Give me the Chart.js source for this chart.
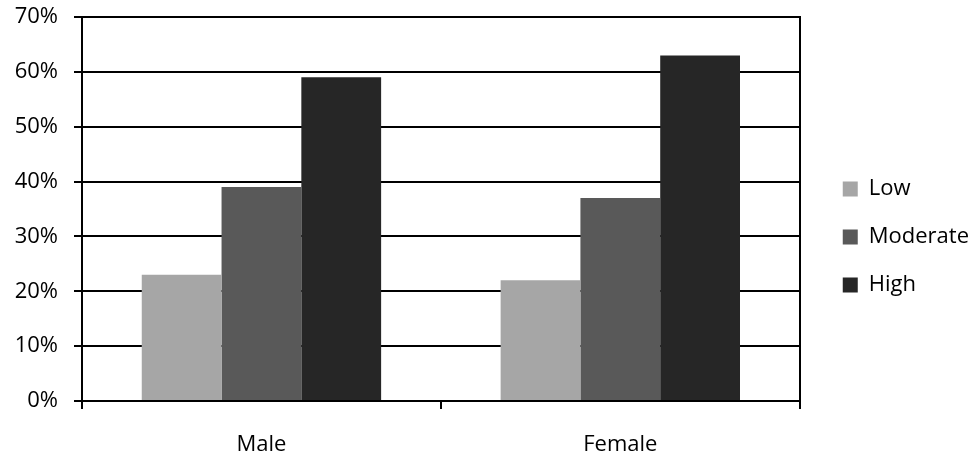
<!DOCTYPE html>
<html>
<head>
<meta charset="utf-8">
<script src="https://cdn.jsdelivr.net/npm/chart.js@4"></script>
<style>
  html, body { margin: 0; padding: 0; background: #fff; }
  #wrap { width: 976px; height: 457px; position: relative; }
</style>
</head>
<body>
<div id="wrap"><canvas id="chart"></canvas></div>
<script>
// Chart data
const categories = ['Male', 'Female'];
const seriesNames = ['Low', 'Moderate', 'High'];
const lowValues = [23, 22];
const moderateValues = [39, 37];
const highValues = [59, 63];
const yTicks = [0, 10, 20, 30, 40, 50, 60, 70];

const seriesColors = ['#a6a6a6', '#595959', '#262626'];
const FONT = { family: '"Open Sans", sans-serif', size: 22 };
const LEGEND_GAP = 9;

// Push the legend a bit further away from the plot area
const legendGap = {
  id: 'legendGap',
  beforeLayout(chart) {
    const legend = chart.legend;
    if (!legend || legend._gapPatched) return;
    const fit = legend.fit;
    legend.fit = function () {
      fit.call(this);
      this.width += LEGEND_GAP;
    };
    legend._gapPatched = true;
  },
  afterLayout(chart) {
    if (chart.legend) chart.legend.left += LEGEND_GAP;
  }
};

const datasets = [lowValues, moderateValues, highValues].map((values, i) => ({
  label: seriesNames[i],
  data: values,
  backgroundColor: seriesColors[i],
  borderWidth: 0,
  categoryPercentage: 0.667,
  barPercentage: 1.0
}));

new Chart(document.getElementById('chart'), {
  type: 'bar',
  data: { labels: categories, datasets: datasets },
  plugins: [legendGap],
  options: {
    responsive: true,
    maintainAspectRatio: false,
    animation: false,
    layout: { padding: { top: 17, right: -3, bottom: 0, left: 0 } },
    plugins: {
      tooltip: { enabled: false },
      legend: {
        position: 'right',
        labels: {
          color: '#000',
          font: FONT,
          boxWidth: 15,
          boxHeight: 15,
          padding: 26
        }
      }
    },
    scales: {
      x: {
        afterFit: (scale) => { scale.height = 56; },
        grid: {
          display: true,
          offset: true,
          drawOnChartArea: false,
          drawTicks: true,
          tickLength: 8,
          tickColor: '#000',
          lineWidth: 2
        },
        border: { display: true, color: '#000', width: 2, z: 1 },
        ticks: { color: '#000', font: FONT, padding: 23 }
      },
      y: {
        min: 0,
        max: 70,
        afterFit: (scale) => {
          scale.width = 82;
          scale.paddingTop = 0;
          scale.paddingBottom = 0;
        },
        afterBuildTicks: (scale) => {
          scale.ticks = yTicks.map(v => ({ value: v }));
        },
        grid: {
          color: '#000',
          lineWidth: 2,
          tickLength: 8,
          tickColor: '#000'
        },
        border: { display: true, color: '#000', width: 2, z: 1 },
        ticks: {
          color: '#000',
          font: FONT,
          padding: 16,
          callback: (v) => v + '%'
        }
      },
      yRight: {
        position: 'right',
        display: true,
        grid: { display: false },
        ticks: { display: false },
        border: { display: true, color: '#000', width: 2, z: 1 }
      }
    }
  }
});
</script>
</body>
</html>
